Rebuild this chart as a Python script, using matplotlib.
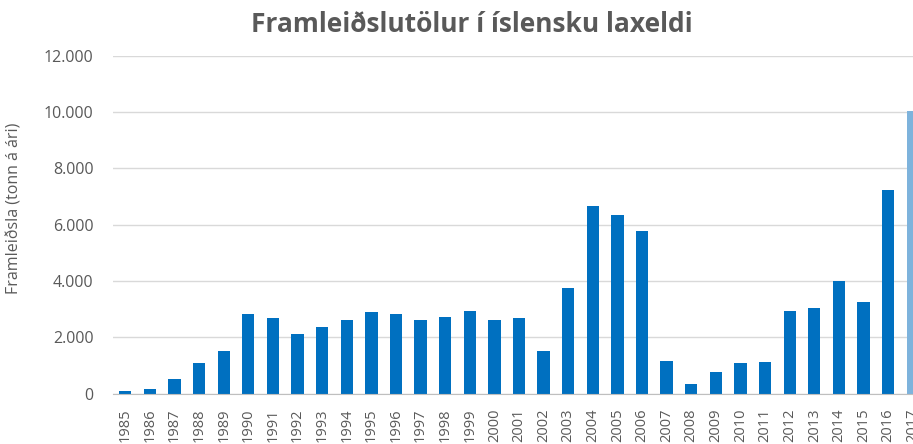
import matplotlib.pyplot as plt
from matplotlib.ticker import FuncFormatter

# Framleiðsla í íslensku laxeldi, tonn á ári
years = [str(y) for y in range(1985, 2018)]
production = [95, 155, 510, 1070, 1500, 2820, 2700, 2110, 2370, 2620,
              2900, 2810, 2600, 2710, 2930, 2620, 2670, 1500, 3740, 6650,
              6330, 5780, 1170, 330, 770, 1100, 1110, 2940, 3040, 4000,
              3270, 7240, 10050]
highlight = '2017'

plt.rcParams['font.family'] = ['Open Sans', 'DejaVu Sans']
grey = '#595959'

fig = plt.figure(figsize=(9.13, 4.44), dpi=100)
# the right end of the chart is cut off in the original picture
ax = fig.add_axes([113 / 913, (444 - 393.5) / 444, 812 / 913, 337.5 / 444])

colors = ['#7EB3DC' if y == highlight else '#0070C0' for y in years]
x = list(range(len(years)))
ax.bar(x, production, width=0.5, color=colors, zorder=3)

ax.set_xlim(-0.5, len(years) - 0.5)
ax.set_ylim(0, 12000)
ax.set_yticks(range(0, 12001, 2000))
ax.yaxis.set_major_formatter(FuncFormatter(lambda v, p: f"{int(v):,}".replace(',', '.')))
ax.set_xticks(x)
ax.set_xticklabels(years, rotation=90)

ax.grid(axis='y', color='#d9d9d9', linewidth=1, zorder=0)
for s in ['top', 'right', 'left']:
    ax.spines[s].set_visible(False)
ax.spines['bottom'].set_color('#bfbfbf')
ax.spines['bottom'].set_zorder(4)
ax.tick_params(axis='y', length=0, pad=14, labelsize=11.5, labelcolor=grey)
ax.tick_params(axis='x', length=0, pad=11, labelsize=10.5, labelcolor=grey)

ax.set_ylabel('Framleiðsla (tonn á ári)', fontsize=11.5, color=grey)
ax.yaxis.set_label_coords(-90 / 812, 0.55)

fig.text(472 / 913, 1 - 24 / 444, 'Framleiðslutölur í íslensku laxeldi',
         ha='center', va='center', fontsize=19, fontweight='bold', color=grey)

plt.savefig('out.png', dpi=100)
